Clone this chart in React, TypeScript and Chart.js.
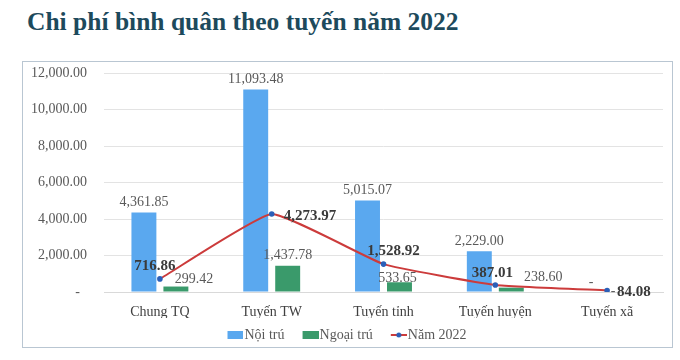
import React, { useEffect, useRef } from "react";
import { Chart, registerables } from "chart.js";

Chart.register(...registerables);

const categories = ["Chung TQ", "Tuyến TW", "Tuyến tỉnh", "Tuyến huyện", "Tuyến xã"];
const noiTru = [4361.85, 11093.48, 5015.07, 2229.0, 0];
const ngoaiTru = [299.42, 1437.78, 533.65, 238.6, 0];
const nam2022 = [716.86, 4273.97, 1528.92, 387.01, 84.08];
const seriesNames = ["Nội trú", "Ngoại trú", "Năm 2022"];
const yMax = 12000;
const yStep = 2000;

// label placement tweaks (style only)
const barLabelShift = [
  [[0, 0], [0, 0], [0, 0], [0, 0], [0, 0]],
  [[18, 3], [0, 0], [-2, 6], [32, 0], [-10, 9]],
];
const lineLabelShift: [number, number, CanvasTextAlign][] = [
  [-5, -13, "center"],
  [12, 2, "left"],
  [10, -13, "center"],
  [-3, -12, "center"],
  [10, 2, "left"],
];

const FONT = '"Liberation Serif", "Times New Roman", serif';
const BLUE = "#5aa8ef";
const GREEN = "#3a9a6b";
const RED = "#cc3b3b";
const DOT = "#2b5fb8";

const fmt = (v: number) =>
  v === 0 ? "-" : v.toLocaleString("en-US", { minimumFractionDigits: 2, maximumFractionDigits: 2 });

// legend swatch: 30px wide image, visible 16x8 mark in its right part
function swatch(kind: "rect" | "line", color: string): HTMLCanvasElement {
  const c = document.createElement("canvas");
  c.width = 30;
  c.height = 8;
  const g = c.getContext("2d")!;
  const x0 = 14;
  if (kind === "rect") {
    g.fillStyle = color;
    g.fillRect(x0, 0, 16, 8);
  } else {
    g.strokeStyle = RED;
    g.lineWidth = 2;
    g.beginPath();
    g.moveTo(x0, 4);
    g.lineTo(x0 + 16, 4);
    g.stroke();
    g.fillStyle = DOT;
    g.beginPath();
    g.arc(x0 + 8, 4, 2.5, 0, Math.PI * 2);
    g.fill();
  }
  return c;
}

const labelPlugin = {
  id: "valueLabels",
  afterDatasetsDraw(chart: any) {
    const ctx = chart.ctx as CanvasRenderingContext2D;
    ctx.save();
    ctx.textBaseline = "middle";
    chart.data.datasets.forEach((ds: any, di: number) => {
      const meta = chart.getDatasetMeta(di);
      meta.data.forEach((el: any, i: number) => {
        const v = ds.data[i] as number;
        const txt = fmt(v);
        if (ds.type === "line") {
          const [dx, dy, align] = lineLabelShift[i];
          ctx.font = `bold 15px ${FONT}`;
          ctx.fillStyle = "#3a3a3a";
          ctx.textAlign = align;
          ctx.fillText(txt, el.x + dx, el.y + dy);
        } else {
          const [dx, dy] = barLabelShift[di][i];
          ctx.font = `14px ${FONT}`;
          ctx.fillStyle = "#595959";
          ctx.textAlign = "center";
          ctx.fillText(txt, el.x + dx, el.y - 10 + dy);
        }
      });
    });
    ctx.restore();
  },
};

export default function App() {
  const ref = useRef<HTMLCanvasElement>(null);

  useEffect(() => {
    document.body.style.margin = "0";
    const swatches = [swatch("rect", BLUE), swatch("rect", GREEN), swatch("line", RED)];
    const chart = new Chart(ref.current!, {
      type: "bar",
      data: {
        labels: categories,
        datasets: [
          {
            type: "bar",
            label: seriesNames[0],
            data: noiTru,
            backgroundColor: BLUE,
            categoryPercentage: 0.572,
            barPercentage: 0.78,
            order: 1,
          },
          {
            type: "bar",
            label: seriesNames[1],
            data: ngoaiTru,
            backgroundColor: GREEN,
            categoryPercentage: 0.572,
            barPercentage: 0.78,
            order: 1,
          },
          {
            type: "line",
            label: seriesNames[2],
            data: nam2022,
            borderColor: RED,
            borderWidth: 2,
            backgroundColor: DOT,
            pointBackgroundColor: DOT,
            pointBorderColor: DOT,
            pointBorderWidth: 0,
            pointRadius: 2.8,
            tension: 0.12,
            order: 0,
          },
        ] as any,
      },
      options: {
        animation: false,
        responsive: false,
        layout: { padding: { left: 0, right: 9, top: 11, bottom: -5 } },
        plugins: {
          tooltip: { enabled: false },
          legend: {
            position: "bottom",
            labels: {
              font: { family: FONT, size: 14 },
              color: "#595959",
              usePointStyle: true,
              pointStyleWidth: 18,
              boxHeight: 8,
              padding: 10,
              generateLabels: () =>
                seriesNames.map((name, i) => ({
                  text: name,
                  pointStyle: swatches[i],
                  fillStyle: "transparent",
                  strokeStyle: "transparent",
                  lineWidth: 0,
                  hidden: false,
                  datasetIndex: i,
                  fontColor: "#595959",
                })) as any,
            },
          },
        },
        scales: {
          x: {
            grid: { display: false, drawTicks: false },
            border: { display: true, color: "#d9d9d9" },
            ticks: { font: { family: FONT, size: 14 }, color: "#404040", padding: 12 },
            afterFit: (s: any) => {
              s.height = 26;
            },
          },
          y: {
            min: 0,
            max: yMax,
            ticks: {
              stepSize: yStep,
              font: { family: FONT, size: 14 },
              color: "#595959",
              padding: 17,
              callback: (v: any) => (Number(v) === 0 ? "-  " : fmt(Number(v))),
            },
            grid: { color: "#e3e3e3", drawTicks: false },
            border: { display: false },
            afterFit: (s: any) => {
              s.width = 81;
              s.paddingTop = 8;
              s.paddingBottom = 8;
            },
          },
        },
      },
      plugins: [labelPlugin],
    });
    return () => chart.destroy();
  }, []);

  return (
    <div style={{ position: "relative", width: 680, height: 360, fontFamily: FONT, background: "#fff" }}>
      <div
        style={{
          position: "absolute",
          left: 27,
          top: 7,
          fontSize: 25.5,
          fontWeight: 700,
          color: "#1d4a5c",
          whiteSpace: "nowrap",
        }}
      >
        Chi phí bình quân theo tuyến năm 2022
      </div>
      <div
        style={{
          position: "absolute",
          left: 22,
          top: 61,
          width: 651,
          height: 287,
          border: "1px solid #b9c6d2",
          boxSizing: "border-box",
        }}
      >
        <canvas ref={ref} width={649} height={285} style={{ display: "block" }} />
      </div>
    </div>
  );
}
